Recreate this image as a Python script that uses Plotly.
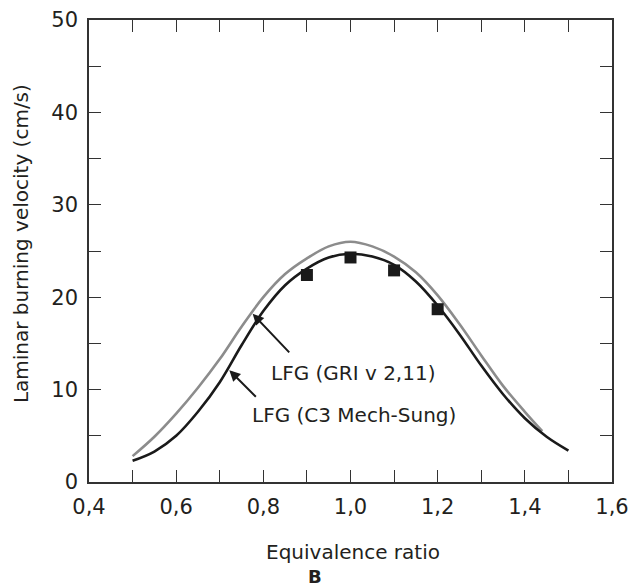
import plotly.graph_objects as go

# Equivalence ratio grid for the model curves
phi_gri = [0.50, 0.55, 0.60, 0.65, 0.70, 0.75, 0.80, 0.85, 0.90, 0.95, 1.00,
           1.05, 1.10, 1.15, 1.20, 1.25, 1.30, 1.35, 1.40, 1.44]
su_gri = [2.8, 4.9, 7.4, 10.2, 13.3, 16.8, 20.0, 22.5, 24.2, 25.5, 26.0,
          25.5, 24.4, 22.7, 20.2, 17.1, 13.7, 10.4, 7.6, 5.5]

phi_c3 = [0.50, 0.55, 0.60, 0.65, 0.70, 0.75, 0.80, 0.85, 0.90, 0.95, 1.00,
          1.05, 1.10, 1.15, 1.20, 1.25, 1.30, 1.35, 1.40, 1.45, 1.50]
su_c3 = [2.3, 3.3, 5.0, 7.6, 10.8, 14.8, 18.5, 21.3, 23.1, 24.3, 24.7,
         24.4, 23.5, 21.7, 19.1, 16.0, 12.6, 9.5, 6.9, 4.9, 3.4]

# Experimental points
phi_exp = [0.9, 1.0, 1.1, 1.2]
su_exp = [22.4, 24.3, 22.9, 18.7]

x_tick_vals = [0.4, 0.5, 0.6, 0.7, 0.8, 0.9, 1.0, 1.1, 1.2, 1.3, 1.4, 1.5, 1.6]
x_tick_text = ["0,4", "", "0,6", "", "0,8", "", "1,0", "", "1,2", "", "1,4", "", "1,6"]
y_tick_vals = [0, 5, 10, 15, 20, 25, 30, 35, 40, 45, 50]
y_tick_text = ["0", "", "10", "", "20", "", "30", "", "40", "", "50"]

FONT = "DejaVu Sans"
TXT = "#231f20"

fig = go.Figure()
fig.add_trace(go.Scatter(x=phi_gri, y=su_gri, mode="lines", line_shape="spline",
                         line=dict(color="#8c8c8c", width=2.6), showlegend=False))
fig.add_trace(go.Scatter(x=phi_c3, y=su_c3, mode="lines", line_shape="spline",
                         line=dict(color="#1a1a1a", width=2.6), showlegend=False))
fig.add_trace(go.Scatter(x=phi_exp, y=su_exp, mode="markers",
                         marker=dict(symbol="square", size=12, color="#1a1a1a"),
                         showlegend=False))

axis_common = dict(showline=True, mirror="ticks", linecolor="#333333", linewidth=1.5,
                   ticks="inside", ticklen=12, tickwidth=1.3, tickcolor="#333333",
                   showgrid=False, zeroline=False, automargin=False,
                   tickfont=dict(family=FONT, size=21, color=TXT))

fig.update_xaxes(range=[0.4, 1.6], tickvals=x_tick_vals, ticktext=x_tick_text,
                 ticklabelstandoff=5, **axis_common)
fig.update_yaxes(range=[0, 50], tickvals=y_tick_vals, ticktext=y_tick_text,
                 ticklabelstandoff=5, **axis_common)

ann = []
# arrows
ann.append(dict(x=0.7755, y=18.2, xref="x", yref="y", ax=38, ay=40, text="",
                showarrow=True, arrowhead=2, arrowsize=1.1, arrowwidth=2, arrowcolor="#1a1a1a"))
ann.append(dict(x=0.722, y=12.1, xref="x", yref="y", ax=28, ay=28, text="",
                showarrow=True, arrowhead=2, arrowsize=1.1, arrowwidth=2, arrowcolor="#1a1a1a"))
# labels
ann.append(dict(x=1.0055, y=11.8, xref="x", yref="y", text="LFG (GRI v 2,11)", showarrow=False,
                font=dict(family=FONT, size=20, color=TXT), xanchor="center", yanchor="middle"))
ann.append(dict(x=1.007, y=7.2, xref="x", yref="y", text="LFG (C3 Mech-Sung)", showarrow=False,
                font=dict(family=FONT, size=20, color=TXT), xanchor="center", yanchor="middle"))
# axis titles
ann.append(dict(x=0.504, y=-0.151, xref="paper", yref="paper", text="Equivalence ratio",
                showarrow=False, font=dict(family=FONT, size=20, color=TXT),
                xanchor="center", yanchor="middle"))
ann.append(dict(x=-0.130, y=0.515, xref="paper", yref="paper",
                text="Laminar burning velocity (cm/s)", textangle=-90,
                showarrow=False, font=dict(family=FONT, size=20, color=TXT),
                xanchor="center", yanchor="middle"))
ann.append(dict(x=0.432, y=-0.204, xref="paper", yref="paper", text="<b>B</b>",
                showarrow=False, font=dict(family=FONT, size=18, color=TXT),
                xanchor="center", yanchor="middle"))

fig.update_layout(width=633, height=588, margin=dict(l=89, r=21, t=20, b=106),
                  paper_bgcolor="white", plot_bgcolor="white", annotations=ann,
                  font=dict(family=FONT, color=TXT))

fig.write_html("out.html", config={"displayModeBar": False},
               post_script="document.body.style.margin='0px';document.body.style.padding='0px';"
                           "document.body.style.overflow='hidden';")
